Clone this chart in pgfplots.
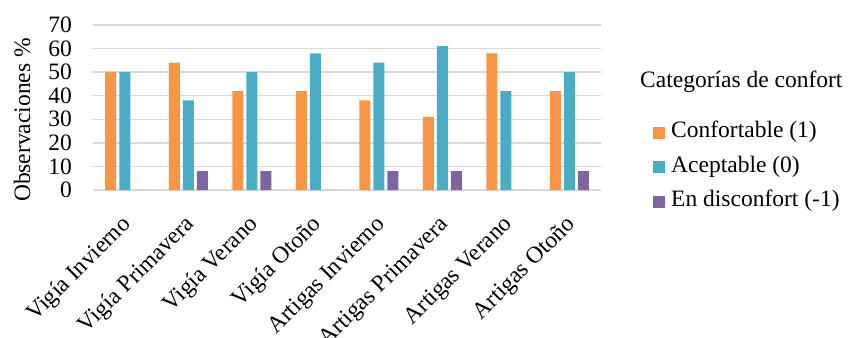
\documentclass[border=0pt]{standalone}
\usepackage{fontspec}
\setmainfont{Liberation Serif}
\usepackage{pgfplots}
\pgfplotsset{compat=1.18}

\definecolor{cConf}{HTML}{F79646}
\definecolor{cAcep}{HTML}{4BACC6}
\definecolor{cDisc}{HTML}{8064A2}
\definecolor{gridgray}{HTML}{D9D9D9}

\begin{document}
\begin{tikzpicture}
\useasboundingbox (0,0) rectangle (848bp,338bp);
\begin{axis}[
  at={(93bp,148bp)}, anchor=south west,
  scale only axis, width=508bp, height=165bp,
  font=\fontsize{23.5bp}{28bp}\selectfont,
  /pgf/number format/assume math mode=true,
  ybar=3bp, bar width=11bp,
  xmin=-0.5, xmax=7.5, ymin=0, ymax=70,
  ytick={0,10,...,70},
  xtick=data,
  xticklabels={Vigía Invierno, Vigía Primavera, Vigía Verano, Vigía Otoño,
               Artigas Invierno, Artigas Primavera, Artigas Verano, Artigas Otoño},
  xticklabel style={inner sep=0pt, anchor=base east, xshift=7bp, yshift=-31bp, rotate=45},
  yticklabel style={inner sep=0pt, anchor=east, xshift=-21bp},
  ymajorgrids, grid style={draw=gridgray, line width=1.3bp},
  axis line style={draw=none}, tick style={draw=none},
  ylabel={Observaciones \%},
  ylabel style={at={(axis description cs:-0.124,0.424)}, anchor=base, inner sep=0pt, rotate=0},
  legend style={draw=none, fill=none, at={(axis description cs:1.1024,0.139)}, anchor=west,
    inner sep=0pt, row sep=13bp, column sep=6bp, legend cell align=left,
    nodes={inner sep=0pt, text height=16bp, text depth=5.5bp}},
  legend image code/.code={\fill[#1] (0bp,-6bp) rectangle (12bp,6bp);},
  clip=false,
]
\addplot[fill=cConf, draw=none] coordinates {(0,50) (1,54) (2,42) (3,42) (4,38) (5,31) (6,58) (7,42)};
\addplot[fill=cAcep, draw=none] coordinates {(0,50) (1,38) (2,50) (3,58) (4,54) (5,61) (6,42) (7,50)};
\addplot[fill=cDisc, draw=none] coordinates {(0,0) (1,8) (2,8) (3,0) (4,8) (5,8) (6,0) (7,8)};
\legend{Confortable (1), Aceptable (0), En disconfort (-1)}
\node[anchor=base west, inner sep=0pt] at (axis description cs:1.0768,0.6242) {Categorías de confort};
\end{axis}
\end{tikzpicture}
\end{document}
